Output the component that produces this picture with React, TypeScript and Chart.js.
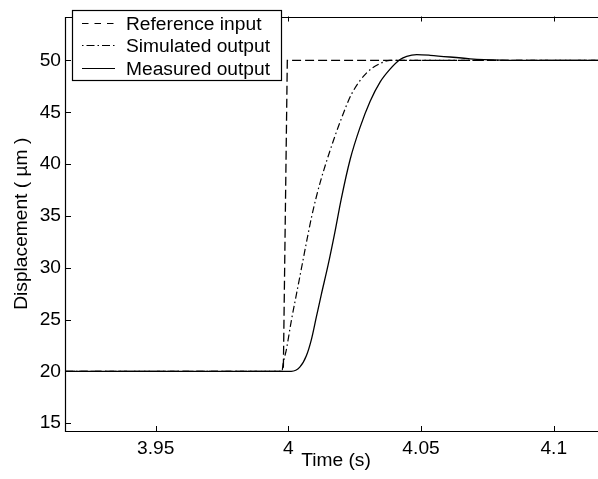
import React, { useEffect, useRef } from 'react';
import { Chart, registerables } from 'chart.js';

Chart.register(...registerables);

const seriesLabels = ['Reference input', 'Simulated output', 'Measured output'];

const refTime = [3.9162, 3.9981, 3.9996, 4.1197];
const refValue = [20, 20, 50, 50];

const simTime = [3.9162, 3.9976, 3.998, 3.99925, 4.00113, 4.00301, 4.0049, 4.00678, 4.00867, 4.0105, 4.0124, 4.0157, 4.0194, 4.0239, 4.0295, 4.0346, 4.0383, 4.045, 4.1197];
const simValue = [20, 20, 20.7, 22.1, 24.9, 27.4, 29.9, 32.4, 34.8, 36.8, 38.6, 41.3, 44.0, 46.8, 48.8, 49.7, 50, 50, 50];

const measTime = [3.9162, 4.0011, 4.0043, 4.00678, 4.00867, 4.01055, 4.01243, 4.01496, 4.01748, 4.0199, 4.02325, 4.02701, 4.03078, 4.03455, 4.03832, 4.04209, 4.04461, 4.04838, 4.05339, 4.0685, 4.08, 4.09, 4.1197];
const measValue = [20, 20, 20.4, 21.5, 23.06, 25.25, 27.43, 30.24, 33.36, 36.6, 40.42, 43.54, 46.04, 47.91, 49.16, 50.09, 50.4, 50.56, 50.5, 50.16, 50.03, 50, 50];

const xTicks = [3.95, 4, 4.05, 4.1];
const yTicks = [15, 20, 25, 30, 35, 40, 45, 50];

const xMin = 3.9162;
const xMax = 4.1197;
const yMin = 14.24;
const yMax = 54.24;

const FONT = '"Liberation Sans", Arial, Helvetica, sans-serif';
const FS = 19.2;

const toPoints = (t: number[], v: number[]) => t.map((x, i) => ({ x, y: v[i] }));

const dashRef = [9, 4];
const dashSim = [7, 3, 1.5, 3];

const framePlugin = {
  id: 'frameLegend',
  afterDatasetsDraw(chart: any) {
    const { ctx, chartArea } = chart;
    const { left, right, top, bottom } = chartArea;
    const xs = chart.scales.x;
    const ys = chart.scales.y;
    ctx.save();
    ctx.strokeStyle = '#000';
    ctx.lineWidth = 1.2;
    ctx.setLineDash([]);
    ctx.beginPath();
    ctx.rect(Math.round(left) - 0.5, Math.round(top) + 0.5, Math.round(right - left), Math.round(bottom - top));
    ctx.stroke();
    const tl = 5;
    ctx.lineWidth = 1;
    ctx.beginPath();
    xTicks.forEach((v) => {
      const px = Math.round(xs.getPixelForValue(v)) + 0.5;
      ctx.moveTo(px, bottom);
      ctx.lineTo(px, bottom - tl);
      ctx.moveTo(px, top);
      ctx.lineTo(px, top + tl);
    });
    yTicks.forEach((v) => {
      const py = Math.round(ys.getPixelForValue(v)) + 0.5;
      ctx.moveTo(left, py);
      ctx.lineTo(left + tl, py);
      ctx.moveTo(right, py);
      ctx.lineTo(right - tl, py);
    });
    ctx.stroke();

    // legend
    const bx = 72.5, by = 10.5, bw = 209, bh = 70;
    ctx.fillStyle = '#fff';
    ctx.fillRect(bx, by, bw, bh);
    ctx.lineWidth = 1.2;
    ctx.strokeRect(bx, by, bw, bh);
    const rows = [23.5, 45.5, 68.5];
    const dashes = [[6.5, 6], [1.5, 3, 8, 3], []];
    ctx.font = `${FS}px ${FONT}`;
    ctx.textBaseline = 'alphabetic';
    ctx.textAlign = 'left';
    ctx.lineWidth = 1.1;
    rows.forEach((ry, i) => {
      ctx.beginPath();
      ctx.setLineDash(dashes[i]);
      ctx.moveTo(82, ry);
      ctx.lineTo(115, ry);
      ctx.stroke();
      ctx.fillStyle = '#000';
      ctx.fillText(chart.data.datasets[i].label, 126, ry + 6.3);
    });
    ctx.restore();
  },
};

export default function App() {
  const ref = useRef<HTMLCanvasElement | null>(null);
  useEffect(() => {
    if (!ref.current) return;
    const chart = new Chart(ref.current, {
      type: 'line',
      data: {
        datasets: [
          {
            label: seriesLabels[0],
            data: toPoints(refTime, refValue),
            borderColor: '#000',
            borderWidth: 1.3,
            borderDash: dashRef,
            pointRadius: 0,
            tension: 0,
            fill: false,
          },
          {
            label: seriesLabels[1],
            data: toPoints(simTime, simValue),
            borderColor: '#000',
            borderWidth: 1.2,
            borderDash: dashSim,
            pointRadius: 0,
            cubicInterpolationMode: 'monotone',
            fill: false,
          },
          {
            label: seriesLabels[2],
            data: toPoints(measTime, measValue),
            borderColor: '#000',
            borderWidth: 1.3,
            pointRadius: 0,
            cubicInterpolationMode: 'monotone',
            fill: false,
          },
        ],
      },
      options: {
        animation: false,
        responsive: true,
        maintainAspectRatio: false,
        layout: { padding: { left: 0, top: 4, right: 8, bottom: 0 } },
        plugins: {
          legend: { display: false },
          tooltip: { enabled: false },
        },
        scales: {
          x: {
            type: 'linear',
            min: xMin,
            max: xMax,
            grid: { display: false, drawTicks: false },
            border: { display: false },
            afterBuildTicks: (s: any) => {
              s.ticks = xTicks.map((v) => ({ value: v }));
            },
            afterFit: (s: any) => {
              s.height = 48;
            },
            ticks: {
              autoSkip: false,
              maxRotation: 0,
              padding: 6.5,
              color: '#000',
              font: { family: FONT, size: FS },
              callback: (v: any) => String(v),
            },
            title: {
              display: true,
              text: 'Time (s)',
              color: '#000',
              font: { family: FONT, size: FS },
              padding: { top: 0, bottom: 7 },
            },
          },
          y: {
            type: 'linear',
            min: yMin,
            max: yMax,
            grid: { display: false, drawTicks: false },
            border: { display: false },
            afterBuildTicks: (s: any) => {
              s.ticks = yTicks.map((v) => ({ value: v }));
            },
            afterFit: (s: any) => {
              s.width = 66;
            },
            ticks: {
              padding: 5,
              color: '#000',
              font: { family: FONT, size: FS },
              callback: (v: any) => String(v),
            },
            title: {
              display: true,
              text: 'Displacement ( µm )',
              color: '#000',
              font: { family: FONT, size: FS },
              padding: { top: 10.5, bottom: 0 },
            },
          },
        },
      },
      plugins: [framePlugin],
    } as any);
    return () => chart.destroy();
  }, []);
  return (
    <div style={{ position: 'fixed', left: 0, top: 0, width: 598, height: 479, overflow: 'hidden', background: '#fff' }}>
      <div style={{ position: 'relative', width: 614, height: 479 }}>
        <canvas ref={ref} />
      </div>
    </div>
  );
}
